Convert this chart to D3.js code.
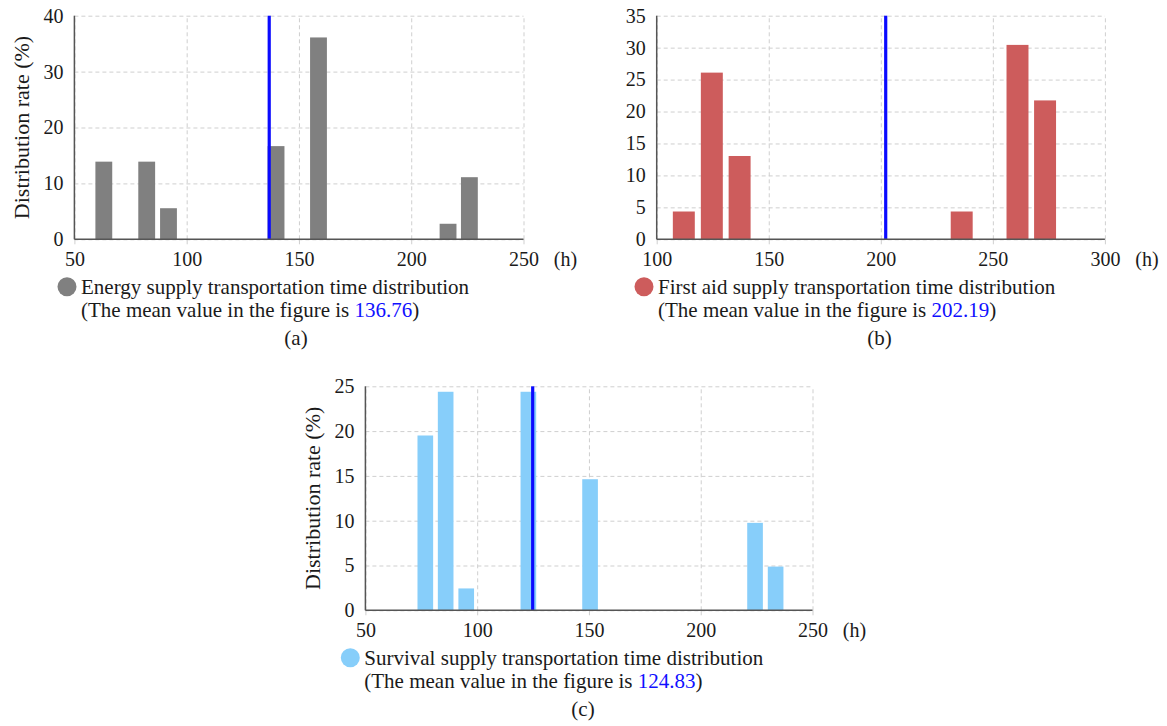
<!DOCTYPE html>
<html>
<head>
<meta charset="utf-8">
<script src="https://cdn.jsdelivr.net/npm/d3@7"></script>
<style>
  body { margin: 0; background: #fff; }
  svg { display: block; }
</style>
</head>
<body>
<div id="chart"></div>
<script>
// Energy supply (a)
const energyBins = [63.1, 82.2, 91.9, 139.8, 158.7, 216.4, 225.9];
const energyRates = [13.89, 13.89, 5.56, 16.67, 36.11, 2.78, 11.11];
const energyMean = 136.76;
const energyXTicks = [50, 100, 150, 200, 250];
const energyYTicks = [0, 10, 20, 30, 40];

// First aid supply (b)
const firstAidBins = [112.1, 124.6, 137.0, 236.1, 261.0, 273.3];
const firstAidRates = [4.35, 26.09, 13.04, 4.35, 30.43, 21.74];
const firstAidMean = 202.19;
const firstAidXTicks = [100, 150, 200, 250, 300];
const firstAidYTicks = [0, 5, 10, 15, 20, 25, 30, 35];

// Survival supply (c)
const survivalBins = [76.8, 85.9, 95.1, 122.9, 150.5, 224.3, 233.5];
const survivalRates = [19.51, 24.39, 2.44, 24.39, 14.63, 9.76, 4.88];
const survivalMean = 124.83;
const survivalXTicks = [50, 100, 150, 200, 250];
const survivalYTicks = [0, 5, 10, 15, 20, 25];

const legendLabels = [
  "Energy supply transportation time distribution",
  "First aid supply transportation time distribution",
  "Survival supply transportation time distribution",
];
const panelTags = ["(a)", "(b)", "(c)"];

const W = 1167, H = 726;
const serif = "'Liberation Serif', 'Times New Roman', serif";

const svg = d3
  .select("#chart")
  .append("svg")
  .attr("width", W)
  .attr("height", H)
  .style("background", "#fff");

const drawPanel = (cfg) => {
  const xScale = d3.scaleLinear().domain(d3.extent(cfg.xTicks)).range([cfg.left, cfg.right]);
  const yScale = d3.scaleLinear().domain(d3.extent(cfg.yTicks)).range([cfg.bottom, cfg.top]);
  const g = svg.append("g");

  // dashed grid
  g.append("g")
    .attr("transform", `translate(0,${cfg.bottom})`)
    .call(d3.axisBottom(xScale).tickValues(cfg.xTicks).tickSize(-(cfg.bottom - cfg.top) ).tickFormat(""))
    .call((a) => a.select(".domain").remove())
    .selectAll("line")
    .attr("stroke", "#cfcfcf")
    .attr("stroke-dasharray", "4,3");

  g.append("g")
    .attr("transform", `translate(${cfg.left},0)`)
    .call(d3.axisLeft(yScale).tickValues(cfg.yTicks).tickSize(-(cfg.right - cfg.left)).tickFormat(""))
    .call((a) => a.select(".domain").remove())
    .selectAll("line")
    .attr("stroke", "#cfcfcf")
    .attr("stroke-dasharray", "4,3");

  // bars
  g.selectAll(".bar")
    .data(cfg.bins.map((b, i) => ({ bin: b, rate: cfg.rates[i] })))
    .enter()
    .append("rect")
    .attr("class", "bar")
    .attr("x", (d) => xScale(d.bin - cfg.barWidth / 2))
    .attr("width", (d) => xScale(d.bin + cfg.barWidth / 2) - xScale(d.bin - cfg.barWidth / 2))
    .attr("y", (d) => yScale(d.rate))
    .attr("height", (d) => yScale(0) - yScale(d.rate))
    .attr("fill", cfg.color);

  // mean line
  g.append("line")
    .attr("x1", xScale(cfg.mean))
    .attr("x2", xScale(cfg.mean))
    .attr("y1", yScale(cfg.yTicks[cfg.yTicks.length - 1]))
    .attr("y2", yScale(0))
    .attr("stroke", "#0a0aff")
    .attr("stroke-width", 3.2);

  // x axis
  const xAxis = g.append("g")
    .attr("transform", `translate(0,${cfg.bottom})`)
    .call(d3.axisBottom(xScale).tickValues(cfg.xTicks).tickSize(5));
  xAxis.select(".domain").remove();
  xAxis.selectAll("line").attr("stroke", "#cfcfcf");
  xAxis.selectAll("text")
    .attr("y", 27)
    .attr("dy", null)
    .attr("fill", "#1a1a1a")
    .style("font-family", serif)
    .style("font-size", "20px");

  g.append("text")
    .attr("x", cfg.right + 42)
    .attr("y", cfg.bottom + 27)
    .attr("text-anchor", "middle")
    .attr("fill", "#1a1a1a")
    .style("font-family", serif)
    .style("font-size", "20px")
    .text("(h)");

  // y axis
  const yAxis = g.append("g")
    .attr("transform", `translate(${cfg.left},0)`)
    .call(d3.axisLeft(yScale).tickValues(cfg.yTicks).tickSize(0).tickPadding(11));
  yAxis.select(".domain").remove();
  yAxis.selectAll("text")
    .attr("fill", "#1a1a1a")
    .style("font-family", serif)
    .style("font-size", "20px");

  // axis lines
  g.append("line")
    .attr("x1", cfg.left).attr("x2", cfg.right)
    .attr("y1", cfg.bottom).attr("y2", cfg.bottom)
    .attr("stroke", "#555").attr("stroke-width", 1.5);
  g.append("line")
    .attr("x1", cfg.left).attr("x2", cfg.left)
    .attr("y1", cfg.top).attr("y2", cfg.bottom)
    .attr("stroke", "#555").attr("stroke-width", 1.5);

  if (cfg.yLabel) {
    g.append("text")
      .attr("text-anchor", "middle")
      .attr("transform", `translate(${cfg.left - 45},${(cfg.top + cfg.bottom) / 2})rotate(-90)`)
      .attr("fill", "#1a1a1a")
      .style("font-family", serif)
      .style("font-size", "22px")
      .text("Distribution rate (%)");
  }

  // legend
  const lx = cfg.legendX, ly = cfg.bottom + 55;
  g.append("circle")
    .attr("cx", lx - 14)
    .attr("cy", ly - 7.5)
    .attr("r", 9.5)
    .attr("fill", cfg.color);
  g.append("text")
    .attr("x", lx)
    .attr("y", ly)
    .attr("fill", "#1a1a1a")
    .style("font-family", serif)
    .style("font-size", "21px")
    .text(cfg.label);
  const meanText = g.append("text")
    .attr("x", lx)
    .attr("y", ly + 22.5)
    .attr("fill", "#1a1a1a")
    .style("font-family", serif)
    .style("font-size", "21px");
  meanText.append("tspan").text("(The mean value in the figure is ");
  meanText.append("tspan").attr("fill", "#1010ff").text(cfg.mean.toFixed(2));
  meanText.append("tspan").text(")");

  g.append("text")
    .attr("x", cfg.tagX)
    .attr("y", ly + 51)
    .attr("text-anchor", "middle")
    .attr("fill", "#1a1a1a")
    .style("font-family", serif)
    .style("font-size", "21px")
    .text(cfg.tag);
};

drawPanel({
  left: 74.4, right: 523.5, top: 15.7, bottom: 239.3,
  xTicks: energyXTicks, yTicks: energyYTicks,
  bins: energyBins, rates: energyRates, mean: energyMean,
  barWidth: 7.5, color: "#808080", yLabel: true,
  label: legendLabels[0], tag: panelTags[0],
  legendX: 81, tagX: 296,
});

drawPanel({
  left: 656.7, right: 1104.9, top: 15.7, bottom: 239.3,
  xTicks: firstAidXTicks, yTicks: firstAidYTicks,
  bins: firstAidBins, rates: firstAidRates, mean: firstAidMean,
  barWidth: 9.8, color: "#cd5c5c", yLabel: false,
  label: legendLabels[1], tag: panelTags[1],
  legendX: 658, tagX: 879.5,
});

drawPanel({
  left: 365.4, right: 812.5, top: 386.3, bottom: 610.3,
  xTicks: survivalXTicks, yTicks: survivalYTicks,
  bins: survivalBins, rates: survivalRates, mean: survivalMean,
  barWidth: 7.0, color: "#87cefa", yLabel: true,
  label: legendLabels[2], tag: panelTags[2],
  legendX: 364.3, tagX: 583,
});
</script>
</body>
</html>
